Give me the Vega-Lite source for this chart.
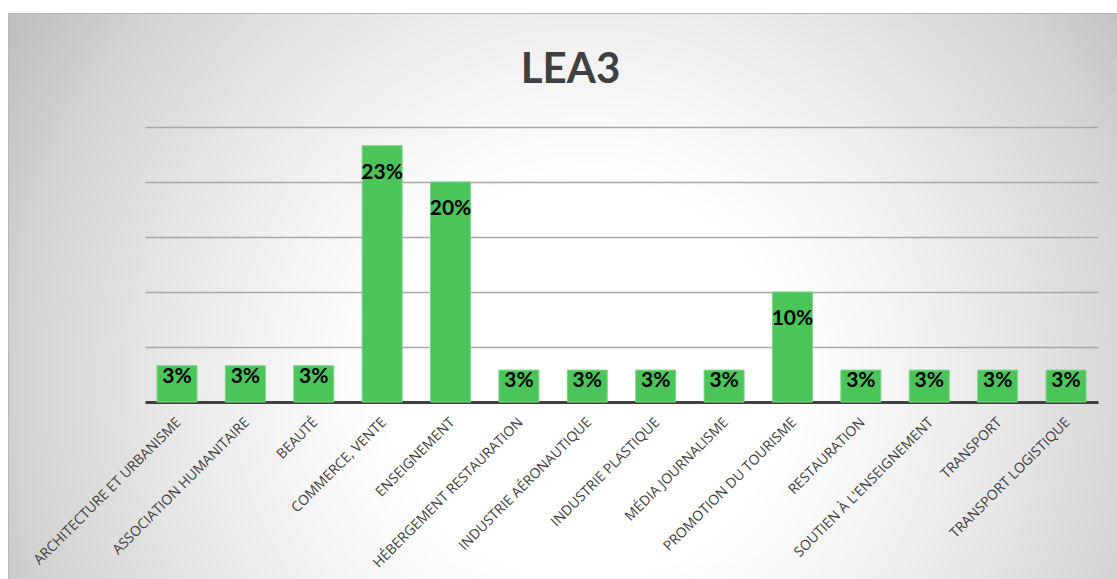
{
  "$schema": "https://vega.github.io/schema/vega-lite/v6.json",
  "width": 1109,
  "height": 566,
  "autosize": {"type": "none"},
  "padding": {"left": 8, "top": 13, "right": 0, "bottom": 0},
  "background": "#ffffff",
  "config": {
    "view": {
      "stroke": "#b8b8b8",
      "strokeWidth": 1,
      "fill": {
        "gradient": "radial",
        "x1": 0.52, "y1": 0.576, "r1": 0,
        "x2": 0.52, "y2": 0.576, "r2": 0.6,
        "stops": [
          {"offset": 0, "color": "#ffffff"},
          {"offset": 0.3, "color": "#ffffff"},
          {"offset": 0.55, "color": "#eeeeee"},
          {"offset": 0.84, "color": "#d4d4d4"},
          {"offset": 1, "color": "#c0c0c0"}
        ]
      }
    }
  },
  "title": {
    "text": "LEA3",
    "font": "Lato",
    "fontSize": 42,
    "fontWeight": "bold",
    "color": "#404040",
    "anchor": "middle",
    "frame": "group",
    "orient": "top",
    "offset": -54,
    "dy": 45,
    "dx": 8,
    "baseline": "middle"
  },
  "data": {
    "values": [
      {"secteur": "ARCHITECTURE ET URBANISME", "part": 0.033},
      {"secteur": "ASSOCIATION HUMANITAIRE", "part": 0.033},
      {"secteur": "BEAUTÉ", "part": 0.033},
      {"secteur": "COMMERCE, VENTE", "part": 0.233},
      {"secteur": "ENSEIGNEMENT", "part": 0.2},
      {"secteur": "HÉBERGEMENT RESTAURATION", "part": 0.029},
      {"secteur": "INDUSTRIE AÉRONAUTIQUE", "part": 0.029},
      {"secteur": "INDUSTRIE PLASTIQUE", "part": 0.029},
      {"secteur": "MÉDIA JOURNALISME", "part": 0.029},
      {"secteur": "PROMOTION DU TOURISME", "part": 0.1},
      {"secteur": "RESTAURATION", "part": 0.029},
      {"secteur": "SOUTIEN À L'ENSEIGNEMENT", "part": 0.029},
      {"secteur": "TRANSPORT", "part": 0.029},
      {"secteur": "TRANSPORT LOGISTIQUE", "part": 0.029}
    ]
  },
  "encoding": {
    "x": {
      "field": "secteur",
      "type": "nominal",
      "sort": null,
      "scale": {"range": [137, 1090], "paddingInner": 0.415, "paddingOuter": 0.175},
      "axis": {
        "title": null,
        "orient": "bottom",
        "offset": -177,
        "domainColor": "#404040",
        "domainWidth": 3,
        "ticks": false,
        "labelAngle": -45,
        "labelAlign": "right",
        "labelBaseline": "middle",
        "labelPadding": 18,
        "labelOffset": 2,
        "labelFont": "Open Sans",
        "labelFontSize": 14,
        "labelColor": "#404040",
        "labelLimit": 400,
        "grid": false
      }
    },
    "y": {
      "field": "part",
      "type": "quantitative",
      "scale": {"domain": [0, 0.25], "range": [389, 114], "nice": false},
      "axis": {
        "title": null,
        "labels": false,
        "ticks": false,
        "domain": false,
        "grid": true,
        "values": [0.05, 0.1, 0.15, 0.2, 0.25],
        "gridColor": "#a8a8a8",
        "gridWidth": 1.5
      }
    }
  },
  "layer": [
    {
      "mark": {"type": "bar", "color": "#4bc55a", "stroke": "#7dd68a", "strokeWidth": 1}
    },
    {
      "transform": [{"filter": "datum.part > 0.05"}],
      "mark": {"type": "text", "baseline": "middle", "dy": 27, "font": "Lato", "fontSize": 21, "fontWeight": "bold", "color": "#000000"},
      "encoding": {"text": {"field": "part", "type": "quantitative", "format": ".0%"}}
    },
    {
      "transform": [{"filter": "datum.part <= 0.05"}],
      "mark": {"type": "text", "baseline": "middle", "dy": 11, "font": "Lato", "fontSize": 21, "fontWeight": "bold", "color": "#000000"},
      "encoding": {"text": {"field": "part", "type": "quantitative", "format": ".0%"}}
    }
  ]
}
